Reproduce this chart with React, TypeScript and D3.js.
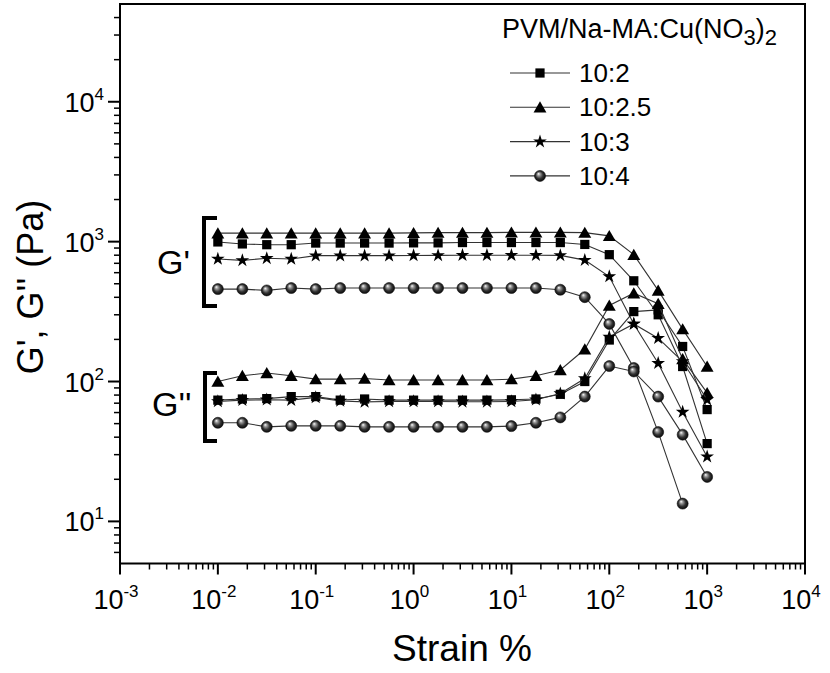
import React from "react";
import * as d3 from "d3";

const strain = [0.01, 0.0178, 0.0316, 0.0562, 0.1, 0.178, 0.316, 0.562, 1, 1.78, 3.16, 5.62, 10, 17.8, 31.6, 56.2, 100, 178, 316, 562, 1000];

const seriesNames = ["10:2", "10:2.5", "10:3", "10:4"];
const seriesSymbols = ["square", "triangle", "star", "circle"];

// G' (storage modulus)
const gp_10_2 = [995, 963, 951, 951, 977, 977, 977, 977, 980, 980, 985, 985, 985, 985, 985, 955, 807, 525, 300, 128, 36];
const gp_10_25 = [1150, 1150, 1150, 1150, 1150, 1150, 1150, 1150, 1155, 1160, 1160, 1160, 1165, 1165, 1165, 1160, 1100, 807, 448, 237, 128];
const gp_10_3 = [752, 735, 760, 752, 794, 794, 794, 794, 796, 798, 800, 800, 800, 800, 798, 738, 563, 258, 135, 60.5, 29];
const gp_10_4 = [458, 458, 448, 466, 458, 466, 466, 466, 466, 466, 466, 466, 466, 466, 453, 401, 258, 125, 43.5, 13.4];

// G'' (loss modulus)
const gpp_10_2 = [73.6, 75, 75.5, 78, 78, 73.6, 75, 73.6, 73.6, 73.6, 73.6, 73.6, 74, 75, 81, 100, 198, 316, 325, 178, 63];
const gpp_10_25 = [100, 110, 115, 110, 104, 104, 105, 102.5, 102.5, 102.5, 102.5, 102.5, 104, 110, 121, 170, 350, 428, 360, 145, 83];
const gpp_10_3 = [72, 73.6, 74, 73.6, 77, 72.6, 71.5, 72, 72, 72, 71.6, 71.6, 72, 74, 82, 105, 208, 258, 204, 139, 74];
const gpp_10_4 = [50.7, 50.7, 47.4, 48.2, 48.2, 48.2, 47.4, 47.4, 47.4, 47.4, 47.4, 47.4, 48, 50.7, 55.4, 78, 129, 118, 78, 41.7, 20.8];

const gPrime = [gp_10_2, gp_10_25, gp_10_3, gp_10_4];
const gDouble = [gpp_10_2, gpp_10_25, gpp_10_3, gpp_10_4];

const xDecades = [-3, -2, -1, 0, 1, 2, 3, 4];
const yDecades = [1, 2, 3, 4];

const W = 830;
const H = 673;
const L = 120, R = 805, T = 4, B = 563.5;

const x = d3.scaleLog().domain([1e-3, 1e4]).range([L, R]);
const y = d3.scaleLog().domain([5, 5e4]).range([B, T]);

const FONT = "'Liberation Sans', Arial, sans-serif";

function symbolPath(kind: string): string {
  const gen = d3.symbol();
  if (kind === "square") return gen.type(d3.symbolSquare).size(85)() as string;
  if (kind === "triangle") return gen.type(d3.symbolTriangle).size(72)() as string;
  if (kind === "star") return gen.type(d3.symbolStar).size(58)() as string;
  return gen.type(d3.symbolCircle).size(95)() as string;
}

function Marker({ kind, cx, cy }: { kind: string; cx: number; cy: number }) {
  const d = symbolPath(kind);
  const dy = kind === "triangle" ? 1.5 : 0;
  return (
    <path
      d={d}
      transform={`translate(${cx},${cy + dy})`}
      fill={kind === "circle" ? "url(#sphere)" : "#000"}
      stroke={kind === "circle" ? "#111" : "none"}
      strokeWidth={0.6}
    />
  );
}

function Series({ values, kind }: { values: number[]; kind: string }) {
  const pts: [number, number][] = values.map((v, i) => [x(strain[i]), y(v)]);
  const line = d3.line()(pts) as string;
  return (
    <g>
      <path d={line} fill="none" stroke="#333" strokeWidth={1.1} />
      {pts.map((p, i) => (
        <Marker key={i} kind={kind} cx={p[0]} cy={p[1]} />
      ))}
    </g>
  );
}

export default function App() {
  const minorTicks = (decades: number[]) => {
    const out: number[] = [];
    for (let i = 0; i < decades.length; i++) {
      for (let m = 2; m <= 9; m++) out.push(m * Math.pow(10, decades[i]));
    }
    return out;
  };
  const xMinor = minorTicks(xDecades.slice(0, -1)).filter((v) => v < 1e4);
  const yMinor = minorTicks([0, 1, 2, 3, 4]).filter((v) => v > 5 && v < 5e4);

  return (
    <svg width={W} height={H} style={{ display: "block", position: "absolute", left: 0, top: 0, background: "#fff" }} fontFamily={FONT}>
      <defs>
        <radialGradient id="sphere" cx="0.5" cy="0.5" r="0.55" fx="0.35" fy="0.3">
          <stop offset="0" stopColor="#ffffff" />
          <stop offset="0.25" stopColor="#9a9a9a" />
          <stop offset="0.6" stopColor="#333" />
          <stop offset="1" stopColor="#000" />
        </radialGradient>
      </defs>
      <rect x={0} y={0} width={W} height={H} fill="#fff" />

      {/* x ticks */}
      {xDecades.map((d) => (
        <line key={"xM" + d} x1={x(Math.pow(10, d))} x2={x(Math.pow(10, d))} y1={B} y2={B + 11} stroke="#000" strokeWidth={2} />
      ))}
      {xMinor.map((v, i) => (
        <line key={"xm" + i} x1={x(v)} x2={x(v)} y1={B} y2={B + 6} stroke="#000" strokeWidth={1.5} />
      ))}
      {xDecades.map((d) => (
        <text key={"xl" + d} x={x(Math.pow(10, d)) - 4} y={609} fontSize={27} textAnchor="middle" fill="#000">
          10
          <tspan fontSize={17} dy={-12}>{d}</tspan>
        </text>
      ))}

      {/* y ticks */}
      {yDecades.map((d) => (
        <line key={"yM" + d} x1={L - 12} x2={L} y1={y(Math.pow(10, d))} y2={y(Math.pow(10, d))} stroke="#000" strokeWidth={2} />
      ))}
      {yMinor.map((v, i) => (
        <line key={"ym" + i} x1={L - 6} x2={L} y1={y(v)} y2={y(v)} stroke="#000" strokeWidth={1.5} />
      ))}
      {yDecades.map((d) => (
        <text key={"yl" + d} x={104} y={y(Math.pow(10, d)) + 10} fontSize={27} textAnchor="end" fill="#000">
          10
          <tspan fontSize={17} dy={-12}>{d}</tspan>
        </text>
      ))}

      {/* frame */}
      <rect x={L} y={T} width={R - L} height={B - T} fill="none" stroke="#000" strokeWidth={2} />

      {/* axis titles */}
      <text x={462} y={661} fontSize={37} textAnchor="middle" fill="#000">Strain %</text>
      <text transform={`translate(43,${287}) rotate(-90)`} fontSize={36} textAnchor="middle" fill="#000">G', G'' (Pa)</text>

      {/* brackets */}
      <text x={157} y={274} fontSize={34} fill="#000">G'</text>
      <path d="M217,218 H204 V306 H217" fill="none" stroke="#000" strokeWidth={4} />
      <text x={152} y={416} fontSize={34} fill="#000">G''</text>
      <path d="M217,373 H205 V441 H217" fill="none" stroke="#000" strokeWidth={4} />

      {/* data */}
      {gPrime.map((vals, i) => (
        <Series key={"gp" + i} values={vals} kind={seriesSymbols[i]} />
      ))}
      {gDouble.map((vals, i) => (
        <Series key={"gpp" + i} values={vals} kind={seriesSymbols[i]} />
      ))}

      {/* legend */}
      <text x={502} y={38} fontSize={27} fill="#000">
        PVM/Na-MA:Cu(NO
        <tspan fontSize={22} dy={7}>3</tspan>
        <tspan fontSize={27} dy={-7}>)</tspan>
        <tspan fontSize={22} dy={7}>2</tspan>
      </text>
      {seriesNames.map((name, i) => {
        const ly = 73 + i * 34.3;
        return (
          <g key={"lg" + i}>
            <line x1={510} x2={570} y1={ly} y2={ly} stroke="#333" strokeWidth={1.1} />
            <Marker kind={seriesSymbols[i]} cx={540} cy={ly} />
            <text x={579} y={ly + 9} fontSize={26} fill="#000">{name}</text>
          </g>
        );
      })}
    </svg>
  );
}
